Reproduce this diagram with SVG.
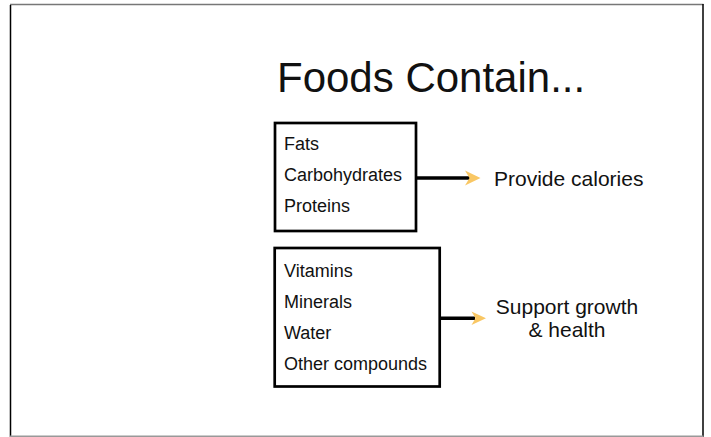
<svg xmlns="http://www.w3.org/2000/svg" width="711" height="437" viewBox="0 0 711 437">
<style>
.t{font-family:"Liberation Sans",Arial,sans-serif;fill:#111}
.box{fill:#fff;stroke:#000;stroke-width:2.7}
.ln{stroke:#000;stroke-width:3.5;fill:none}
.ah{fill:#F9C764}
</style>
<rect x="0" y="0" width="711" height="437" fill="#fff"/>
<g id="frame">
<line x1="10" y1="4.5" x2="703.5" y2="4.5" stroke="#777" stroke-width="1.5"/>
<line x1="10.5" y1="5" x2="10.5" y2="437" stroke="#000" stroke-width="1.5"/>
<line x1="703" y1="4" x2="703" y2="437" stroke="#000" stroke-width="1.5"/>
<line x1="10" y1="436.3" x2="703.5" y2="436.3" stroke="#999" stroke-width="1.5"/>
</g>
<g id="title">
<text class="t" x="277" y="92" font-size="42">Foods Contain...</text>
</g>
<g id="box1">
<rect class="box" x="275" y="123" width="141" height="108"/>
<text class="t" x="284" y="149.5" font-size="18">Fats</text>
<text class="t" x="284" y="180.5" font-size="18">Carbohydrates</text>
<text class="t" x="284" y="211.5" font-size="18">Proteins</text>
</g>
<g id="box2">
<rect class="box" x="274.7" y="248" width="165" height="138.5"/>
<text class="t" x="284" y="277" font-size="18">Vitamins</text>
<text class="t" x="284" y="307.5" font-size="18">Minerals</text>
<text class="t" x="284" y="338.5" font-size="18">Water</text>
<text class="t" x="284" y="369.5" font-size="18">Other compounds</text>
</g>
<g id="label1">
<text class="t" x="494" y="185.7" font-size="21">Provide calories</text>
</g>
<g id="label2">
<text class="t" x="567" y="314" font-size="21" text-anchor="middle">Support growth</text>
<text class="t" x="567" y="337" font-size="21" text-anchor="middle">&amp; health</text>
</g>
<g id="connectors">
<line class="ln" x1="417" y1="178" x2="470" y2="178"/>
<path class="ah" d="M480.5,178 L465,170.5 L469.5,178 L465,185.5 Z"/>
<line class="ln" x1="440" y1="318.3" x2="475" y2="318.3"/>
<path class="ah" d="M486,318.3 L471.5,311.5 L475.5,318.3 L471.5,325 Z"/>
</g>
</svg>
